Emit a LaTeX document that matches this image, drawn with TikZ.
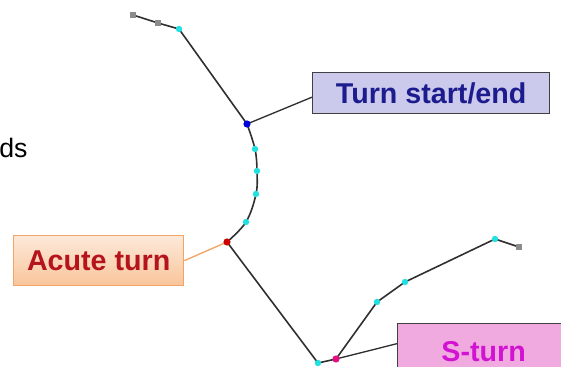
\documentclass[tikz,border=0pt]{standalone}
\usepackage{fontspec}
\setmainfont{Liberation Sans}
\usetikzlibrary{shadings}

\definecolor{track}{HTML}{303030}
\definecolor{tip}{HTML}{8C8C8C}
\definecolor{mid}{HTML}{22E0E0}
\definecolor{turnfill}{HTML}{CCCAEC}
\definecolor{turntext}{HTML}{1C1C8E}
\definecolor{acutetop}{HTML}{FDE9DA}
\definecolor{acutebot}{HTML}{F9C59A}
\definecolor{acuteline}{HTML}{F2A466}
\definecolor{acutetext}{HTML}{B5141C}
\definecolor{sfill}{HTML}{F0AADF}
\definecolor{stext}{HTML}{D214D2}

\tikzset{
	label box/.style={draw=black!75, line width=1pt, anchor=north west, inner sep=0pt,
		font=\fontsize{21.5}{25}\selectfont\bfseries},
	dot/.style={circle, fill=#1, inner sep=0pt, minimum size=4.8pt},
	tipdot/.style={rectangle, fill=tip, inner sep=0pt, minimum size=4pt}
}

\begin{document}
\begin{tikzpicture}[x=0.75pt, y=-0.75pt]

	\useasboundingbox (0,0) rectangle (561,367);
	\clip (0,0) rectangle (561,367);

	% cut off word on the left
	\node[anchor=base west, inner sep=0pt, font=\fontsize{20}{24}\selectfont] (word) at (-1,158) {ds};

	% track points
	\coordinate (t1) at (133,15);
	\coordinate (t2) at (158,23);
	\coordinate (t3) at (179,29);
	\coordinate (start) at (247,124);
	\coordinate (c1) at (255,149);
	\coordinate (c2) at (257,171);
	\coordinate (c3) at (256,194);
	\coordinate (c4) at (246,222);
	\coordinate (acute) at (227,242);
	\coordinate (low) at (318,363);
	\coordinate (sturn) at (336,359);
	\coordinate (u1) at (377,302);
	\coordinate (u2) at (405,282);
	\coordinate (u3) at (495,239);
	\coordinate (u4) at (519,247);

	% label boxes
	\node[label box, fill=turnfill, text=turntext, minimum width=177.75pt, minimum height=30.75pt]
		(turnbox) at (312,72) {Turn start/end};
	\node[label box, draw=acuteline, top color=acutetop, bottom color=acutebot, text=acutetext,
		minimum width=127.5pt, minimum height=37.5pt]
		(acutebox) at (13,235) {Acute turn};
	\node[label box, fill=sfill, text=stext, minimum width=129pt, minimum height=42pt,
		text depth=0pt]
		(sbox) at (397,323) {S-turn};

	% connectors
	\draw[track, line width=1pt] (turnbox.west) ++(0,4) -- (start);
	\draw[acuteline, line width=1pt] (acutebox.east) -- (acute);
	\draw[track, line width=1pt] (sbox.west) ++(0,-8) -- (sturn);

	% track
	\draw[track, line width=1.2pt] (t1) -- (t2) -- (t3) -- (start);
	\draw[track, line width=1.2pt] plot[smooth, tension=0.6] coordinates {(start) (c1) (c2) (c3) (c4) (acute)};
	\draw[track, line width=1.2pt] (acute) -- (low) -- (sturn) -- (u1) -- (u2) -- (u3) -- (u4);

	% markers
	\node[tipdot] at (t1) {};
	\node[tipdot] at (t2) {};
	\node[tipdot] at (u4) {};
	\foreach \p in {t3,c1,c2,c3,c4,low,u1,u2,u3}
		\node[dot=mid] at (\p) {};
	\node[dot=blue!85!black, minimum size=5.4pt] at (start) {};
	\node[dot=red!80!black, minimum size=5.4pt] at (acute) {};
	\node[dot=magenta!80!purple, minimum size=5.4pt] at (sturn) {};

\end{tikzpicture}
\end{document}
